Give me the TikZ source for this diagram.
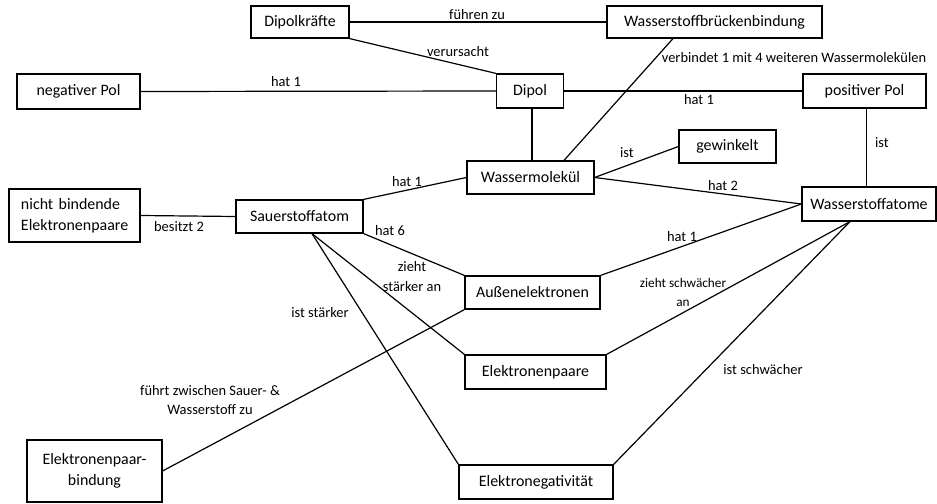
\documentclass[tikz,border=0pt]{standalone}
\usepackage{fontspec}
\setmainfont{Carlito}
\begin{document}
\begin{tikzpicture}[x=1bp,y=-1bp,
  cbox/.style={draw, line width=1.2bp, inner sep=0pt, font=\fontsize{16}{19}\selectfont},
  lbl/.style={inner sep=0pt, font=\fontsize{14.5}{20}\selectfont, align=center},
  slbl/.style={inner sep=0pt, font=\fontsize{13.3}{19}\selectfont, align=center},
  link/.style={line width=1.2bp}]
\useasboundingbox (0,0) rectangle (937,504);

% concepts
\node[cbox, minimum width=98bp,  minimum height=32bp] (dk) at (300,22)    {Dipolkräfte};
\node[cbox, minimum width=215bp, minimum height=32bp] (wb) at (714.5,22)  {Wasserstoffbrückenbindung};
\node[cbox, minimum width=123bp, minimum height=35bp] (np) at (78.5,91.5) {negativer Pol};
\node[cbox, minimum width=67bp,  minimum height=34bp] (dp) at (530,91)    {Dipol};
\node[cbox, minimum width=123bp, minimum height=34bp] (pp) at (864.5,91)  {positiver Pol};
\node[cbox, minimum width=97bp,  minimum height=33bp] (gw) at (727.5,146.5) {gewinkelt};
\node[cbox, minimum width=127bp, minimum height=33bp] (wm) at (530.5,177.5) {Wassermolekül};
\node[cbox, minimum width=134bp, minimum height=34bp] (wa) at (869,204)   {Wasserstoffatome};
\node[cbox, minimum height=53bp, text width=107bp, inner xsep=12bp, align=left,
      font=\fontsize{16}{21}\selectfont] (nb) at (74.5,215.5) {nicht bindende\\Elektronenpaare};
\node[cbox, minimum width=127bp, minimum height=33bp] (so) at (299.5,216.5) {Sauerstoffatom};
\node[cbox, minimum width=135bp, minimum height=33bp] (ae) at (532.5,292.5) {Außenelektronen};
\node[cbox, minimum width=141bp, minimum height=34bp] (ep) at (535.5,372)  {Elektronenpaare};
\node[cbox, minimum width=154bp, minimum height=34bp] (en) at (536,482)    {Elektronegativität};
\node[cbox, minimum width=135bp, minimum height=62bp, align=center,
      font=\fontsize{16}{21}\selectfont] (eb) at (94.5,471) {Elektronenpaar-\\bindung};

% connectors
\draw[link] (dk.east) -- (wb.west);
\draw[link] (dk.south east) -- (dp.north west);
\draw[link] (np.east) -- (dp.west);
\draw[link] (dp.east) -- (pp.west);
\draw[link] ([xshift=-41.5bp]wb.south) -- ([xshift=33.5bp]wm.north);
\draw[link] ([xshift=2bp]dp.south) -- ([xshift=2bp]dp.south |- wm.north);
\draw[link] (wm.east) -- (gw.west);
\draw[link] ([xshift=2bp]pp.south) -- ([xshift=2bp]pp.south |- wa.north);
\draw[link] (wm.east) -- (wa.west);
\draw[link] (so.north east) -- (wm.west);
\draw[link] (nb.east) -- (so.west);
\draw[link] (so.south east) -- (ae.north west);
\draw[link] (ae.north east) -- (wa.west);
\draw[link] ([xshift=12.5bp]so.south) -- (ep.north west);
\draw[link] ([xshift=12.5bp]so.south) -- (en.north west);
\draw[link] (ae.south west) -- (eb.east);
\draw[link] (ep.north east) -- ([xshift=-19bp]wa.south);
\draw[link] (en.north east) -- ([xshift=-19bp]wa.south);

% connector labels
\node[lbl] (t1)  at (477,15)  {führen zu};
\node[lbl] (t2)  at (458,52)  {verursacht};
\node[lbl] (t3)  at (286,82)  {hat 1};
\node[lbl] (t4)  at (699,100) {hat 1};
\node[lbl] (t5)  at (794,58)  {verbindet 1 mit 4 weiteren Wassermolekülen};
\node[lbl] (t6)  at (627,153) {ist};
\node[lbl] (t7)  at (882,143) {ist};
\node[lbl] (t8)  at (723,186) {hat 2};
\node[lbl] (t9)  at (407,182) {hat 1};
\node[lbl] (t10) at (179,227) {besitzt 2};
\node[lbl] (t11) at (390,231) {hat 6};
\node[lbl] (t12) at (682,237) {hat 1};
\node[lbl] (t13) at (412,277) {zieht\\stärker an};
\node[lbl] (t14) at (320,313) {ist stärker};
\node[lbl] (t15) at (210,400) {führt zwischen Sauer- \&\\Wasserstoff zu};
\node[slbl] (t16) at (683,292) {zieht schwächer\\an};
\node[lbl] (t17) at (763,370) {ist schwächer};
\end{tikzpicture}
\end{document}
